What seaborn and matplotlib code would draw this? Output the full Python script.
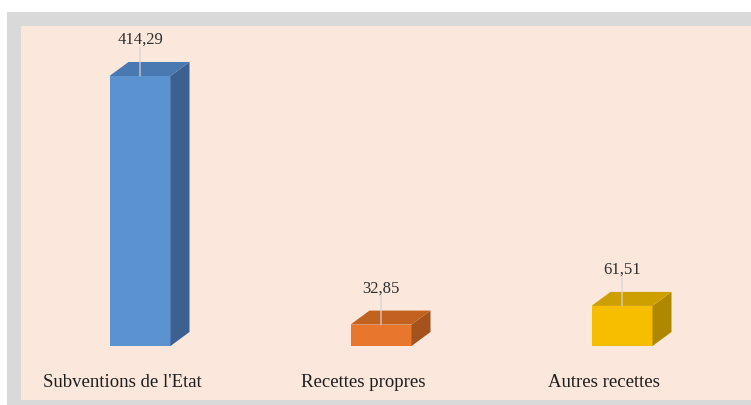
import matplotlib
matplotlib.use("Agg")
import matplotlib.pyplot as plt
from matplotlib.patches import Polygon, Rectangle
import seaborn as sns

# Ressources (values shown with a comma decimal separator)
categories = ["Subventions de l'Etat", "Recettes propres", "Autres recettes"]
values = [414.29, 32.85, 61.51]
value_labels = ["414,29", "32,85", "61,51"]

front_colors = ["#5b93d0", "#e8762c", "#f7be00"]
top_colors = ["#4a78b0", "#c3611f", "#cda000"]
side_colors = ["#3c6190", "#a4531c", "#b08800"]

sns.set_theme(style="white")
plt.rcParams["font.family"] = ["Liberation Serif", "DejaVu Serif"]

W, H = 751, 406
fig = plt.figure(figsize=(W / 100, H / 100), dpi=100)
fig.patch.set_facecolor("white")

# frame and chart area
fig.patches.append(Rectangle((7 / W, 0), 1 - 7 / W, (H - 13) / H,
                             transform=fig.transFigure, facecolor="#d9d9d9",
                             edgecolor="none", zorder=-3))
fig.patches.append(Rectangle((21 / W, 5 / H), 1 - 21 / W, (H - 27 - 5) / H,
                             transform=fig.transFigure, facecolor="#fbe7dc",
                             edgecolor="none", zorder=-2))

ax = fig.add_axes([0, 0, 1, 1])
ax.patch.set_alpha(0)

px_per_x = 241.0          # pixels between category centres
px_per_y = 270.0 / 414.29  # pixels per unit
x0_px, base_px = 140.0, H - 347.0

sns.barplot(x=categories, y=values, hue=categories, palette=front_colors,
            width=61 / px_per_x, legend=False, saturation=1, ax=ax,
            edgecolor="none", linewidth=0)

ax.set_xlim(-x0_px / px_per_x, (W - x0_px) / px_per_x)
ax.set_ylim(-base_px / px_per_y, (H - base_px) / px_per_y)
ax.set_axis_off()

# depth of the boxes
dx = 19 / px_per_x
dy = 14 / px_per_y

for i, bar in enumerate(ax.patches):
    x, w, h = bar.get_x(), bar.get_width(), bar.get_height()
    side = Polygon([(x + w, 0), (x + w + dx, dy), (x + w + dx, h + dy), (x + w, h)],
                   closed=True, facecolor=side_colors[i], edgecolor="none")
    top = Polygon([(x, h), (x + dx, h + dy), (x + w + dx, h + dy), (x + w, h)],
                  closed=True, facecolor=top_colors[i], edgecolor="none")
    ax.add_patch(side)
    ax.add_patch(top)

    cx = x + w / 2
    # leader line + value label
    ax.annotate("", xy=(cx, h), xytext=(0, 29), textcoords="offset pixels",
                xycoords="data",
                arrowprops=dict(arrowstyle="-", color="#d4d4d4", lw=0.9,
                                shrinkA=0, shrinkB=0))
    ax.annotate(value_labels[i], xy=(cx, h), xytext=(0, 37), textcoords="offset pixels",
                ha="center", va="center", fontsize=12, color="#2e2e2e")

    # category label
    ax.annotate(categories[i], xy=(cx, 0), xytext=(-18, -36), textcoords="offset pixels",
                ha="center", va="center", fontsize=13.5, color="#1e1e1e")

fig.savefig("out.png", dpi=100)
